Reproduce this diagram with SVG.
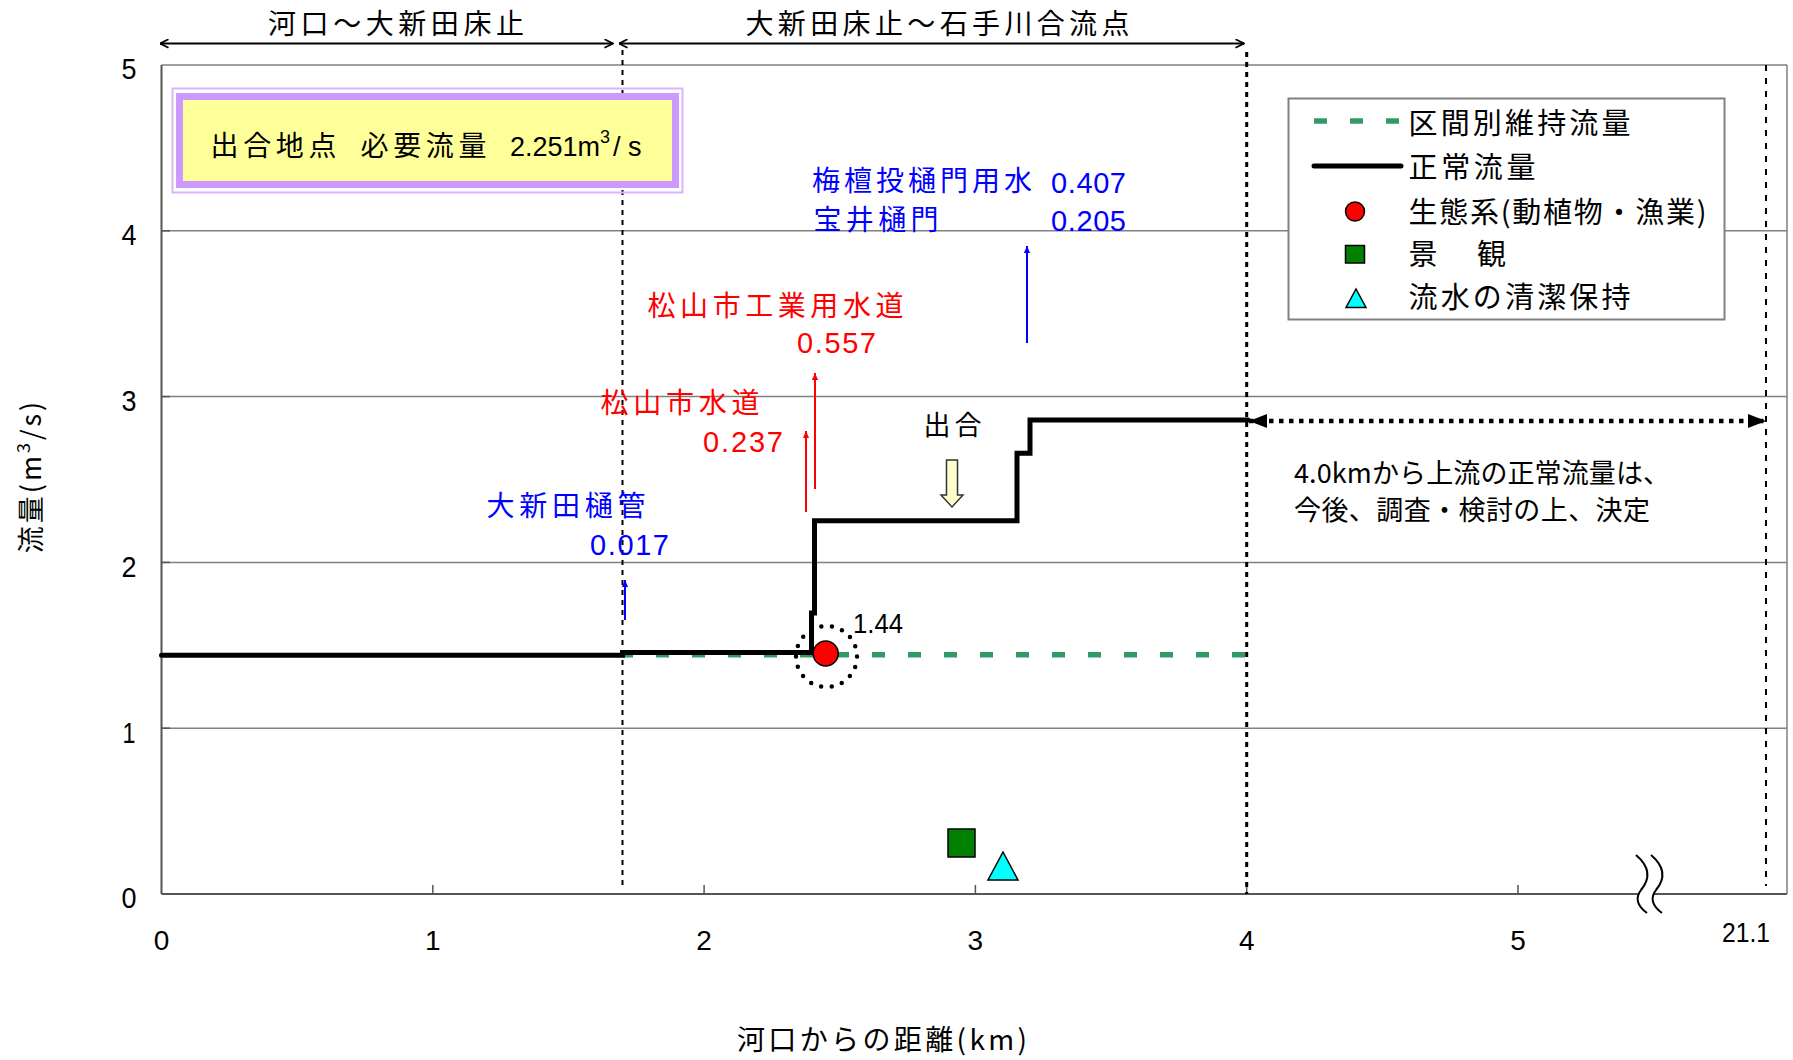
<svg xmlns="http://www.w3.org/2000/svg" width="1793" height="1060" viewBox="0 0 1793 1060">
<style>
.jp{font-family:"Noto Sans CJK JP","Noto Sans",sans-serif;fill:#000}
.num{font-family:"Liberation Sans","Noto Sans CJK JP",sans-serif;fill:#000}
.blue{fill:#0000FF}
.red{fill:#FF0000}
.grid{stroke:#808080;stroke-width:1.5;fill:none}
.axis{stroke:#555;stroke-width:2;fill:none}
.tick{stroke:#555;stroke-width:1.5}
</style>
<defs>
<marker id="openArrow" viewBox="0 0 10 10" refX="9.5" refY="5" markerWidth="10" markerHeight="10" orient="auto-start-reverse" markerUnits="userSpaceOnUse">
<path d="M1,0.8 L9.5,5 L1,9.2" fill="none" stroke="#000" stroke-width="1.8"/>
</marker>
<marker id="blueHead" viewBox="0 0 8 8" refX="8" refY="4" markerWidth="8" markerHeight="7" orient="auto" markerUnits="userSpaceOnUse">
<path d="M0,0.5 L8,4 L0,7.5 Z" fill="#0000FF"/>
</marker>
<marker id="redHead" viewBox="0 0 8 8" refX="8" refY="4" markerWidth="8" markerHeight="7" orient="auto" markerUnits="userSpaceOnUse">
<path d="M0,0.5 L8,4 L0,7.5 Z" fill="#FF0000"/>
</marker>
<marker id="bigHead" viewBox="0 0 18 14" refX="18" refY="7" markerWidth="18" markerHeight="14" orient="auto-start-reverse" markerUnits="userSpaceOnUse">
<path d="M0,0 L18,7 L0,14 Z" fill="#000"/>
</marker>
</defs>

<rect x="0" y="0" width="1793" height="1060" fill="#fff"/>

<g id="plot-frame">
<line class="grid" x1="161.5" y1="728.2" x2="1787" y2="728.2"/>
<line class="grid" x1="161.5" y1="562.4" x2="1787" y2="562.4"/>
<line class="grid" x1="161.5" y1="396.6" x2="1787" y2="396.6"/>
<line class="grid" x1="161.5" y1="230.8" x2="1787" y2="230.8"/>
<line class="grid" x1="161.5" y1="65" x2="1787" y2="65"/>
<line class="grid" x1="1787" y1="65" x2="1787" y2="894"/>
<line class="axis" x1="161.5" y1="65" x2="161.5" y2="894"/>
<line class="axis" x1="161.5" y1="894" x2="1787" y2="894"/>
<g class="tick">
<line x1="432.8" y1="885" x2="432.8" y2="894"/>
<line x1="704.1" y1="885" x2="704.1" y2="894"/>
<line x1="975.4" y1="885" x2="975.4" y2="894"/>
<line x1="1246.7" y1="885" x2="1246.7" y2="894"/>
<line x1="1518" y1="885" x2="1518" y2="894"/>
<line x1="161.5" y1="728.2" x2="170" y2="728.2"/>
<line x1="161.5" y1="562.4" x2="170" y2="562.4"/>
<line x1="161.5" y1="396.6" x2="170" y2="396.6"/>
<line x1="161.5" y1="230.8" x2="170" y2="230.8"/>
</g>
</g>

<g id="break-mark">
<path d="M1643.5,855 Q1663.5,872 1648.5,890 Q1639.5,902 1654.5,913" fill="none" stroke="#fff" stroke-width="13"/>
<path d="M1636,855 Q1656,872 1641,890 Q1632,902 1647,913" fill="none" stroke="#000" stroke-width="2"/>
<path d="M1651,855 Q1671,872 1656,890 Q1647,902 1662,913" fill="none" stroke="#000" stroke-width="2"/>
</g>

<g id="axis-labels">
<text class="num" x="129" y="908" font-size="29" text-anchor="middle" textLength="15" lengthAdjust="spacingAndGlyphs">0</text>
<text class="num" x="129" y="743" font-size="29" text-anchor="middle" textLength="13" lengthAdjust="spacingAndGlyphs">1</text>
<text class="num" x="129" y="577" font-size="29" text-anchor="middle" textLength="15" lengthAdjust="spacingAndGlyphs">2</text>
<text class="num" x="129" y="411" font-size="29" text-anchor="middle" textLength="15" lengthAdjust="spacingAndGlyphs">3</text>
<text class="num" x="129" y="245" font-size="29" text-anchor="middle" textLength="15" lengthAdjust="spacingAndGlyphs">4</text>
<text class="num" x="129" y="79" font-size="29" text-anchor="middle" textLength="15" lengthAdjust="spacingAndGlyphs">5</text>
<text class="num" x="161.5" y="950" font-size="28" text-anchor="middle">0</text>
<text class="num" x="432.8" y="950" font-size="28" text-anchor="middle">1</text>
<text class="num" x="704.1" y="950" font-size="28" text-anchor="middle">2</text>
<text class="num" x="975.4" y="950" font-size="28" text-anchor="middle">3</text>
<text class="num" x="1246.7" y="950" font-size="28" text-anchor="middle">4</text>
<text class="num" x="1518" y="950" font-size="28" text-anchor="middle">5</text>
<text class="num" x="1746" y="942" font-size="27" text-anchor="middle" textLength="48" lengthAdjust="spacingAndGlyphs">21.1</text>
<text class="jp" x="737" y="1050" font-size="28" textLength="290" lengthAdjust="spacing">河口からの距離(km)</text>
<text class="jp" transform="translate(41,476) rotate(-90)" font-size="27" text-anchor="middle" letter-spacing="3">流量(m<tspan dy="-11" font-size="18">3</tspan><tspan dy="11">/s)</tspan></text>
</g>

<g id="connectors">
<line x1="622.5" y1="50" x2="622.5" y2="888" stroke="#000" stroke-width="2" stroke-dasharray="5 5"/>
<line x1="1246.7" y1="52" x2="1246.7" y2="894" stroke="#000" stroke-width="3" stroke-dasharray="5 5"/>
<line x1="1766" y1="65" x2="1766" y2="886" stroke="#000" stroke-width="2" stroke-dasharray="6 7"/>
<line x1="160" y1="43.5" x2="613" y2="43.5" stroke="#000" stroke-width="2" marker-start="url(#openArrow)" marker-end="url(#openArrow)"/>
<line x1="619" y1="43.5" x2="1244" y2="43.5" stroke="#000" stroke-width="2" marker-start="url(#openArrow)" marker-end="url(#openArrow)"/>
<line x1="1249" y1="421" x2="1766" y2="421" stroke="#000" stroke-width="4.5" stroke-dasharray="4.5 5.5" marker-start="url(#bigHead)" marker-end="url(#bigHead)"/>
<line x1="625" y1="620" x2="625" y2="580" stroke="#0000FF" stroke-width="2" marker-end="url(#blueHead)"/>
<line x1="1027" y1="343" x2="1027" y2="246" stroke="#0000FF" stroke-width="2" marker-end="url(#blueHead)"/>
<line x1="806" y1="512" x2="806" y2="431" stroke="#FF0000" stroke-width="2" marker-end="url(#redHead)"/>
<line x1="815" y1="489" x2="815" y2="373" stroke="#FF0000" stroke-width="2" marker-end="url(#redHead)"/>
</g>

<g id="maintenance-flow">
<line x1="622.5" y1="654.8" x2="1246.5" y2="654.8" stroke="#339966" stroke-width="5.5" stroke-dasharray="13 23" stroke-dashoffset="2.5"/>
</g>

<g id="normal-flow">
<path d="M161.5,655.2 H622.5 V652.4 H811.5 V613 H814.5 V520.8 H1017 V453.3 H1030 V420 H1248" fill="none" stroke="#000" stroke-width="5" stroke-linejoin="miter" stroke-linecap="round"/>
</g>

<g id="eco-point">
<circle cx="826.5" cy="656.5" r="30.5" fill="none" stroke="#000" stroke-width="4.5" stroke-linecap="round" stroke-dasharray="0 10.64"/>
<circle cx="825.7" cy="653.5" r="12.5" fill="#FF0000" stroke="#000" stroke-width="1.5"/>
<text class="num" x="853" y="633" font-size="27" textLength="50" lengthAdjust="spacingAndGlyphs">1.44</text>
</g>

<g id="landscape-point">
<rect x="948" y="829" width="27" height="28" fill="#008000" stroke="#000" stroke-width="1.5"/>
</g>
<g id="clean-point">
<polygon points="1003,852 1018,880 988,880" fill="#00FFFF" stroke="#000" stroke-width="1.5"/>
</g>

<g id="range-labels">
<text class="jp" x="268" y="34" font-size="28" textLength="256" lengthAdjust="spacing">河口～大新田床止</text>
<text class="jp" x="745.5" y="34" font-size="28" textLength="384" lengthAdjust="spacing">大新田床止～石手川合流点</text>
</g>

<g id="required-flow-box">
<rect x="172.5" y="88.5" width="510" height="104" fill="none" stroke="#D9B3FF" stroke-width="2"/>
<rect x="179.5" y="96.5" width="496" height="88" fill="#FFFF99" stroke="#CC99FF" stroke-width="7"/>
<text class="jp" y="156" font-size="28"><tspan x="210.5" textLength="126" lengthAdjust="spacing">出合地点</tspan><tspan x="360.5" textLength="126" lengthAdjust="spacing">必要流量</tspan><tspan class="num" x="510" font-size="27">2.251m</tspan><tspan class="num" dy="-13" font-size="18">3</tspan><tspan class="num" x="613 628" dy="13" font-size="27">/s</tspan></text>
</g>

<g id="legend">
<rect x="1288.5" y="98.5" width="436" height="221" fill="#fff" stroke="#808080" stroke-width="2"/>
<line x1="1314" y1="121" x2="1400" y2="121" stroke="#339966" stroke-width="5.5" stroke-dasharray="13 23"/>
<line x1="1314" y1="166" x2="1401" y2="166" stroke="#000" stroke-width="5" stroke-linecap="round"/>
<circle cx="1355" cy="211.5" r="9.5" fill="#FF0000" stroke="#000" stroke-width="1.5"/>
<rect x="1345.5" y="245.5" width="19" height="17.5" fill="#008000" stroke="#000" stroke-width="1.5"/>
<polygon points="1356,289 1366,307.5 1346,307.5" fill="#00FFFF" stroke="#000" stroke-width="1.5"/>
<text class="jp" x="1408.5" y="134" font-size="29" textLength="222" lengthAdjust="spacing">区間別維持流量</text>
<text class="jp" x="1408.5" y="178" font-size="29" textLength="127" lengthAdjust="spacing">正常流量</text>
<text class="jp" x="1408.5" y="223" font-size="29" textLength="298" lengthAdjust="spacing">生態系(動植物・漁業)</text>
<text class="jp" y="265" font-size="29"><tspan x="1408.5">景</tspan><tspan x="1477">観</tspan></text>
<text class="jp" x="1408.5" y="308" font-size="29" textLength="222" lengthAdjust="spacing">流水の清潔保持</text>
</g>

<g id="intake-labels">
<text class="jp blue" x="812" y="191" font-size="28" textLength="220" lengthAdjust="spacing">梅檀投樋門用水</text>
<text class="num blue" x="1051" y="193" font-size="29" textLength="75" lengthAdjust="spacing">0.407</text>
<text class="jp blue" x="813.5" y="230" font-size="28" textLength="125" lengthAdjust="spacing">宝井樋門</text>
<text class="num blue" x="1051" y="231" font-size="29" textLength="75" lengthAdjust="spacing">0.205</text>
<text class="jp blue" x="486.5" y="516" font-size="28" textLength="159" lengthAdjust="spacing">大新田樋管</text>
<text class="num blue" x="590" y="555" font-size="29" textLength="79" lengthAdjust="spacing">0.017</text>
<text class="jp red" x="647.5" y="316" font-size="28" textLength="256" lengthAdjust="spacing">松山市工業用水道</text>
<text class="num red" x="797" y="353" font-size="29" textLength="79" lengthAdjust="spacing">0.557</text>
<text class="jp red" x="600.5" y="413" font-size="28" textLength="159" lengthAdjust="spacing">松山市水道</text>
<text class="num red" x="703" y="452" font-size="29" textLength="80" lengthAdjust="spacing">0.237</text>
</g>

<g id="confluence">
<text class="jp" x="923.5" y="435" font-size="27" textLength="58" lengthAdjust="spacing">出合</text>
<polygon points="946.5,460 957.5,460 957.5,495 963,495 952,507 941,495 946.5,495" fill="#FFFFCC" stroke="#333" stroke-width="1.5"/>
</g>

<g id="upstream-note">
<text class="jp" x="1294" y="483" font-size="27" textLength="376" lengthAdjust="spacing">4.0kmから上流の正常流量は、</text>
<text class="jp" x="1294" y="520" font-size="27" textLength="356" lengthAdjust="spacing">今後、調査・検討の上、決定</text>
</g>
</svg>
